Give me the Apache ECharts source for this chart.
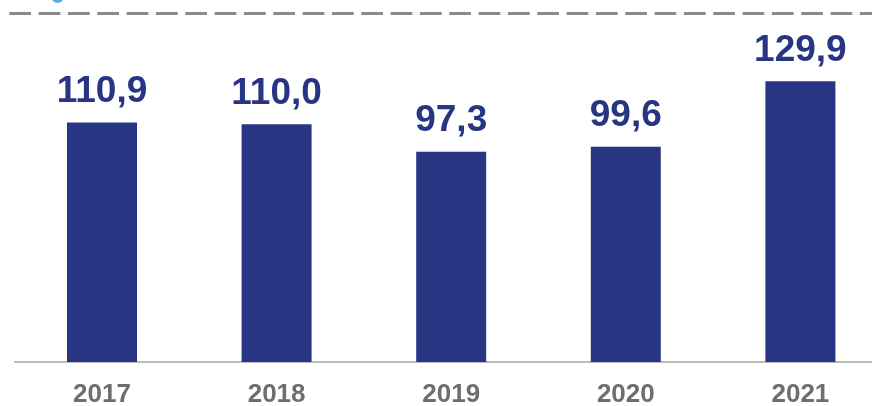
<!DOCTYPE html>
<html><head><meta charset="utf-8">
<style>html,body{margin:0;padding:0;background:#fff}#c{width:872px;height:406px}</style>
<script src="https://cdn.jsdelivr.net/npm/echarts@6/dist/echarts.min.js"></script>
</head><body><div id="c"></div>
<script>
const categories = ['2017','2018','2019','2020','2021'];
const values = [110.9,110.0,97.3,99.6,129.9];
const chart = echarts.init(document.getElementById('c'),null,{renderer:'canvas'});
const font = '"Liberation Sans", Arial, sans-serif';
chart.setOption({
  animation:false,
  grid:{left:14.7,width:873,top:59.5,height:302.5,containLabel:false,outerBoundsMode:'none'},
  xAxis:{type:'category',data:categories,
    axisLine:{show:true,lineStyle:{color:'#a6a6a6',width:1.5}},
    axisTick:{show:false},
    axisLabel:{color:'#6e6e6e',fontFamily:font,fontWeight:'bold',fontSize:26,margin:19.5}},
  yAxis:{type:'value',min:0,max:140,show:false,splitLine:{show:false}},
  series:[{type:'bar',data:values,barWidth:70,
    itemStyle:{color:'#273582'},
    label:{show:true,position:'top',distance:12,color:'#273582',fontFamily:font,fontWeight:'bold',fontSize:37,
      formatter:p=>p.value.toFixed(1).replace('.',',')}}],
  graphic:[
    {type:'line',silent:true,shape:{x1:9.3,y1:13.5,x2:872,y2:13.5},
     style:{stroke:'#8a8a8a',lineWidth:3,lineDash:[21.7,7.63]}},
    {type:'circle',silent:true,shape:{cx:57.5,cy:-3,r:6},style:{fill:'#5aaee8'}}
  ]
});
</script></body></html>
